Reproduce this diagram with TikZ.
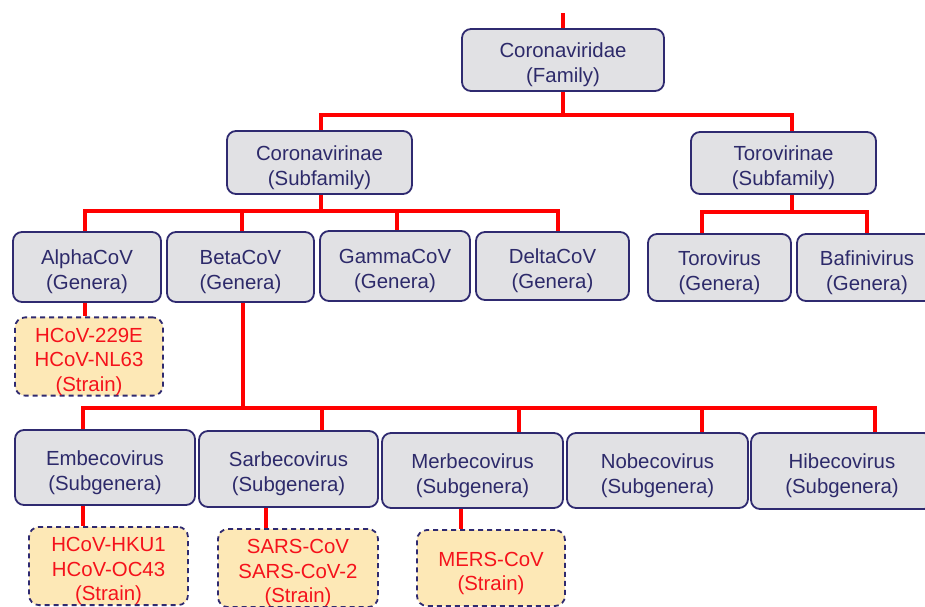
\documentclass[tikz,border=0pt]{standalone}
\usepackage{fontspec}
\setmainfont{Liberation Sans}
\definecolor{boxfill}{HTML}{E1E1E4}
\definecolor{boxline}{HTML}{2F2A70}
\definecolor{txt}{HTML}{2D2A6A}
\definecolor{strainfill}{HTML}{FDE8B6}
\definecolor{linkred}{HTML}{FF0000}
\definecolor{straintxt}{HTML}{F5121B}
\newcommand\liftline{\rule{0pt}{25pt}}
\begin{document}
\begin{tikzpicture}[x=1pt,y=-1pt,
  taxon/.style={draw=boxline, line width=1.8pt, fill=boxfill, rounded corners=9pt,
    text=txt, align=center, font=\fontsize{20.4}{25}\selectfont, inner sep=0pt},
  strain/.style={draw=boxline, line width=1.8pt, fill=strainfill, rounded corners=10pt,
    dash pattern=on 5pt off 4pt, text=straintxt, align=center,
    font=\fontsize{20.4}{24.5}\selectfont, inner sep=0pt},
  link/.style={draw=linkred, line width=4pt}]
\useasboundingbox (0,0) rectangle (925,606);
\clip (0,0) rectangle (925,606);
% level 0 / 1
\node[taxon, minimum width=202pt, minimum height=62pt] (fam) at (563,60) {\liftline Coronaviridae\\(Family)};
\node[taxon, minimum width=185pt, minimum height=63pt] (corsub) at (319.5,162.5) {\liftline Coronavirinae\\(Subfamily)};
\node[taxon, minimum width=185pt, minimum height=62pt] (torsub) at (783.5,163) {\liftline Torovirinae\\(Subfamily)};
% genera
\node[taxon, minimum width=148pt, minimum height=70pt] (alpha) at (87,267) {\liftline AlphaCoV\\(Genera)};
\node[taxon, minimum width=147pt, minimum height=70pt] (beta) at (240.5,267) {\liftline BetaCoV\\(Genera)};
\node[taxon, minimum width=150pt, minimum height=70pt] (gamma) at (395,266) {\liftline GammaCoV\\(Genera)};
\node[taxon, minimum width=153pt, minimum height=68pt] (delta) at (552.5,266) {\liftline DeltaCoV\\(Genera)};
\node[taxon, minimum width=143pt, minimum height=67pt] (torov) at (719.5,267.5) {\liftline Torovirus\\(Genera)};
\node[taxon, minimum width=140pt, minimum height=67pt] (bafin) at (867,267.5) {\liftline Bafinivirus\\(Genera)};
% alpha strain
\node[strain, minimum width=148pt, minimum height=77pt] (alphaS) at (89,356.5) {\liftline HCoV-229E\\HCoV-NL63\\(Strain)};
% subgenera
\node[taxon, minimum width=180pt, minimum height=75pt] (embe) at (105,467.5) {\liftline Embecovirus\\(Subgenera)};
\node[taxon, minimum width=179pt, minimum height=76pt] (sarbe) at (288.5,469) {\liftline Sarbecovirus\\(Subgenera)};
\node[taxon, minimum width=181pt, minimum height=75pt] (merbe) at (472.5,470.5) {\liftline Merbecovirus\\(Subgenera)};
\node[taxon, minimum width=181pt, minimum height=75pt] (nobe) at (657.5,470.5) {\liftline Nobecovirus\\(Subgenera)};
\node[taxon, minimum width=182pt, minimum height=76pt] (hibe) at (842,471) {\liftline Hibecovirus\\(Subgenera)};
% bottom strains
\node[strain, minimum width=159pt, minimum height=76pt] (embeS) at (108.5,566) {\liftline HCoV-HKU1\\HCoV-OC43\\(Strain)};
\node[strain, minimum width=160pt, minimum height=76pt] (sarbeS) at (298,568) {\liftline SARS-CoV\\SARS-CoV-2\\(Strain)};
\node[strain, minimum width=148pt, minimum height=76pt] (merbeS) at (491,568) {\liftline MERS-CoV\\(Strain)};
% connectors
\coordinate (top) at (563,13);
\coordinate (bus1) at (563,115);
\coordinate (bus2) at (321,211);
\coordinate (bus2t) at (792,212);
\coordinate (bus3) at (243,408);
\draw[link] (top) -- (fam.north);
\draw[link] (fam.south) -- (bus1);
\draw[link] ([xshift=1pt]corsub.north) |- (bus1) -| ([xshift=8.5pt]torsub.north);
\draw[link] ([xshift=1.5pt]corsub.south) -- (bus2);
\draw[link] ([xshift=-2pt]alpha.north) |- (bus2) -| ([xshift=5.5pt]delta.north);
\draw[link] ([xshift=1.5pt]beta.north) -- ([xshift=1.5pt]beta.north |- bus2);
\draw[link] ([xshift=2pt]gamma.north) -- ([xshift=2pt]gamma.north |- bus2);
\draw[link] ([xshift=8.5pt]torsub.south) -- (bus2t);
\draw[link] ([xshift=-17.5pt]torov.north) |- (bus2t) -| (bafin.north);
\draw[link] ([xshift=-2pt]alpha.south) -- ([xshift=-2pt]alpha.south |- alphaS.north);
\draw[link] ([xshift=2.5pt]beta.south) -- (bus3);
\draw[link] ([xshift=-22pt]embe.north) |- (bus3) -| ([xshift=33pt]hibe.north);
\draw[link] ([xshift=33.5pt]sarbe.north) -- ([xshift=33.5pt]sarbe.north |- bus3);
\draw[link] ([xshift=46.5pt]merbe.north) -- ([xshift=46.5pt]merbe.north |- bus3);
\draw[link] ([xshift=44.5pt]nobe.north) -- ([xshift=44.5pt]nobe.north |- bus3);
\draw[link] ([xshift=-22pt]embe.south) -- ([xshift=-22pt]embe.south |- embeS.north);
\draw[link] ([xshift=-22.5pt]sarbe.south) -- ([xshift=-22.5pt]sarbe.south |- sarbeS.north);
\draw[link] ([xshift=-11.5pt]merbe.south) -- ([xshift=-11.5pt]merbe.south |- merbeS.north);
\end{tikzpicture}
\end{document}
